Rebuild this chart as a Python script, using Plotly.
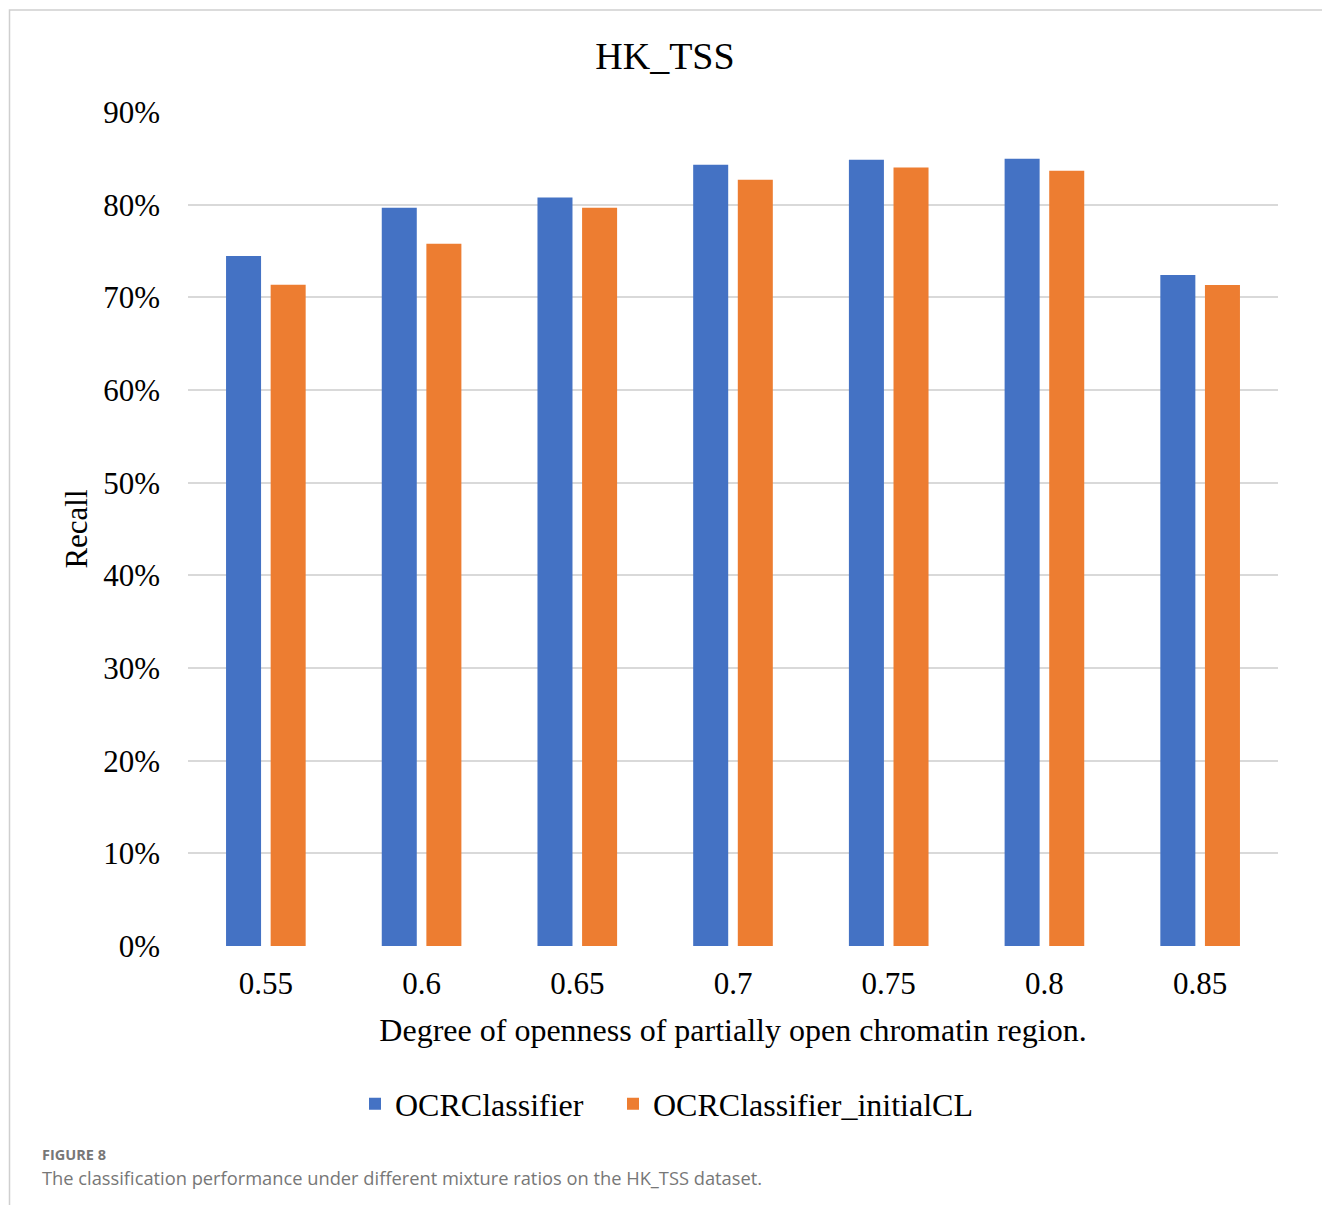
import plotly.graph_objects as go

# Recall per mixture ratio (fraction of 1)
ratios = ["0.55", "0.6", "0.65", "0.7", "0.75", "0.8", "0.85"]
ocr_classifier = [0.7446, 0.7967, 0.8078, 0.8431, 0.8485, 0.8496, 0.7240]
ocr_classifier_initialcl = [0.7136, 0.7579, 0.7967, 0.8270, 0.8402, 0.8367, 0.7133]
y_ticks = [0, 0.1, 0.2, 0.3, 0.4, 0.5, 0.6, 0.7, 0.8, 0.9]
y_tick_labels = ["0%", "10%", "20%", "30%", "40%", "50%", "60%", "70%", "80%", "90%"]

W, H = 1322, 1205
L, R, T, B = 188, 44, 112, 259
PW, PH = W - L - R, H - T - B


def px_x(x):
    return (x - L) / PW


def px_y(y):
    return (H - B - y) / PH


SERIF = "Liberation Serif, Times New Roman, serif"
SANS = "Open Sans, Noto Sans, sans-serif"
LEGEND_FONT = dict(family=SERIF, size=32, color="#000")

fig = go.Figure()
fig.add_trace(go.Bar(name="OCRClassifier", x=ratios, y=ocr_classifier, legend="legend",
                     marker=dict(color="#4472C4", line=dict(width=0))))
fig.add_trace(go.Bar(name="OCRClassifier_initialCL", x=ratios, y=ocr_classifier_initialcl,
                     legend="legend2", marker=dict(color="#ED7D31", line=dict(width=0))))

fig.update_layout(
    width=W, height=H,
    margin=dict(l=L, r=R, t=T, b=B),
    paper_bgcolor="white", plot_bgcolor="white",
    barmode="group", bargap=0.427, bargroupgap=0.215,
    title=dict(text="HK_TSS", x=0.503, xref="container", xanchor="center",
               y=1 - 56 / H, yref="container", yanchor="middle",
               font=dict(family=SERIF, size=38, color="#000")),
    font=dict(family=SERIF, color="#000"),
    showlegend=True,
    legend=dict(orientation="h", x=px_x(355), xanchor="left",
                y=px_y(1104), yanchor="middle", font=LEGEND_FONT, itemwidth=30),
    legend2=dict(orientation="h", x=px_x(613), xanchor="left",
                 y=px_y(1104), yanchor="middle", font=LEGEND_FONT, itemwidth=30),
    xaxis=dict(
        showgrid=False, showline=False, zeroline=False, ticks="",
        tickfont=dict(family=SERIF, size=31, color="#000"),
        ticklabelstandoff=16,
        title=dict(text="Degree of openness of partially open chromatin region.",
                   font=dict(family=SERIF, size=32, color="#000"), standoff=18),
    ),
    yaxis=dict(
        range=[0, 0.9], tickvals=y_ticks, ticktext=y_tick_labels,
        showgrid=True, gridcolor="#d9d9d9", gridwidth=2,
        zeroline=False, showline=False, ticks="",
        tickfont=dict(family=SERIF, size=31, color="#000"),
        ticklabelstandoff=27,
        title=dict(text="Recall", font=dict(family=SERIF, size=31, color="#000"), standoff=6),
    ),
)

# frame around the figure panel
fig.add_shape(type="path", xref="paper", yref="paper",
              path=f"M {px_x(9.5)},{px_y(1205)} L {px_x(9.5)},{px_y(10)} L {px_x(1322)},{px_y(10)}",
              line=dict(color="#cfcfcf", width=1.5), layer="below")

# caption
fig.add_annotation(text="<b>FIGURE 8</b>", xref="paper", yref="paper",
                   x=px_x(40), y=px_y(1154), xanchor="left", yanchor="middle",
                   showarrow=False, font=dict(family=SANS, size=14.5, color="#777"))
fig.add_annotation(text="The classification performance under different mixture ratios on the HK_TSS dataset.",
                   xref="paper", yref="paper",
                   x=px_x(40), y=px_y(1177), xanchor="left", yanchor="middle",
                   showarrow=False, font=dict(family=SANS, size=18.3, color="#777"))

fig.write_html("out.html")
